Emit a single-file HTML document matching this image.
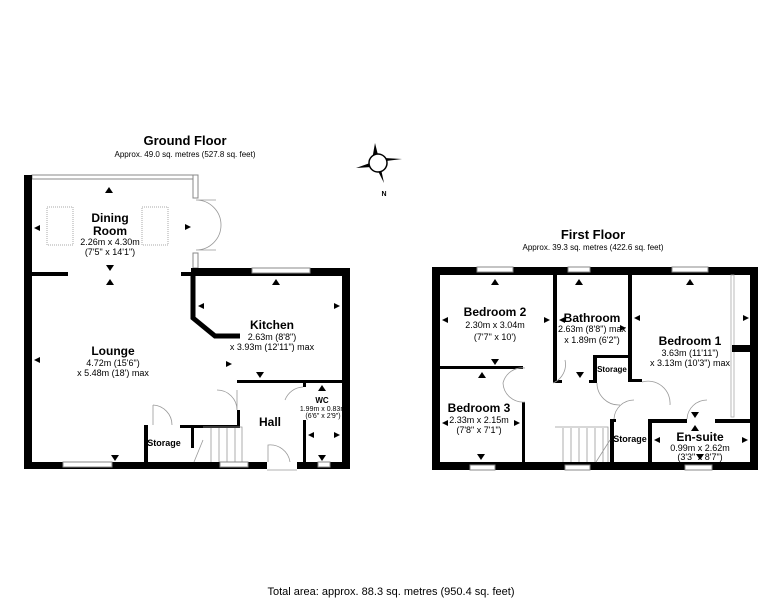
<!DOCTYPE html>
<html><head><meta charset="utf-8"><style>
html,body{margin:0;padding:0;background:#fff;}
svg{display:block;font-family:"Liberation Sans",Arial,sans-serif;}
.w{fill:#000;}
.win{fill:#fff;stroke:#888;stroke-width:1;}
.d{fill:none;stroke:#999;stroke-width:0.8;}
.b{font-weight:bold;font-size:12px;text-anchor:middle;}
.s{font-size:9px;text-anchor:middle;}
.t{font-size:7px;text-anchor:middle;}
</style></head><body>
<svg width="782" height="600" viewBox="0 0 782 600" xmlns="http://www.w3.org/2000/svg">
<!-- titles -->
<text x="185" y="145" style="font-weight:bold;font-size:13px" text-anchor="middle">Ground Floor</text>
<text x="185" y="157" style="font-size:8px" text-anchor="middle">Approx. 49.0 sq. metres (527.8 sq. feet)</text>
<text x="593" y="239" style="font-weight:bold;font-size:13px" text-anchor="middle">First Floor</text>
<text x="593" y="250" style="font-size:8px" text-anchor="middle">Approx. 39.3 sq. metres (422.6 sq. feet)</text>
<text x="391" y="595" style="font-size:11px" text-anchor="middle">Total area: approx. 88.3 sq. metres (950.4 sq. feet)</text>
<!-- compass -->
<g transform="translate(378,163)">
<polygon points="-6,-3 -3,-20 0,-8" fill="#000"/>
<polygon points="3,6 6,20 0,8" fill="#000"/>
<polygon points="-8,0 -22,5 -6,4" fill="#000"/>
<polygon points="8,-2 24,-4 6,-5" fill="#000"/>
<circle r="9" fill="#fff" stroke="#000" stroke-width="1.5"/>
<text x="6" y="33" style="font-size:7px;font-weight:bold" text-anchor="middle">N</text>
</g>

<!-- GROUND FLOOR -->
<rect class="win" x="32" y="175" width="166" height="4"/>
<rect class="win" x="193" y="175" width="5" height="23"/>
<rect class="win" x="193" y="253" width="5" height="15"/>
<path class="d" d="M196,200 A25,25 0 0 1 196,250 M196,200 h20 M196,250 h20"/>
<rect class="w" x="24" y="175" width="8" height="294"/>
<rect class="w" x="24" y="462" width="326" height="7"/>
<rect class="w" x="342" y="268" width="8" height="201"/>
<rect class="w" x="191" y="268" width="159" height="8"/>
<rect class="win" x="252" y="268" width="58" height="5"/>
<rect class="w" x="32" y="272" width="36" height="4"/>
<rect class="w" x="181" y="272" width="10" height="4"/>
<path d="M193,276 V318 L215,336 H240" stroke="#000" stroke-width="5" fill="none"/>
<rect class="w" x="237" y="380" width="105" height="3"/>
<rect class="w" x="303" y="383" width="3" height="4"/>
<rect class="w" x="303" y="420" width="3" height="42"/>
<rect class="w" x="180" y="425" width="60" height="3"/>
<rect class="w" x="237" y="410" width="3" height="18"/>
<rect class="w" x="144" y="425" width="4" height="37"/>
<rect class="w" x="191" y="425" width="3" height="23"/>
<path class="d" d="M203,427 h39 v35 M211,428 v34 M219,428 v34 M227,428 v34 M235,428 v34 M194,462 L203,440"/>
<path class="d" d="M237,410 A20,20 0 0 0 217,390 M237,390 v20 M153,405 v20 M153,405 A20,20 0 0 1 172,425 M303,387 A20,20 0 0 0 285,400 M268,462 v-17 A20,20 0 0 1 290,462"/>
<rect class="win" x="63" y="462" width="49" height="5"/>
<rect class="win" x="220" y="462" width="28" height="5"/>
<rect fill="#fff" x="267" y="462" width="30" height="8"/>
<path class="d" d="M267,470 h30"/>
<rect class="win" x="318" y="462" width="12" height="5"/>
<rect x="47" y="207" width="26" height="38" fill="none" stroke="#aaa" stroke-dasharray="1,1"/>
<rect x="142" y="207" width="26" height="38" fill="none" stroke="#aaa" stroke-dasharray="1,1"/>
<text class="b" x="110" y="222">Dining</text>
<text class="b" x="110" y="235">Room</text>
<text class="s" x="110" y="245">2.26m x 4.30m</text>
<text class="s" x="110" y="255">(7'5" x 14'1")</text>
<text class="b" x="113" y="355">Lounge</text>
<text class="s" x="113" y="366">4.72m (15'6")</text>
<text class="s" x="113" y="376">x 5.48m (18') max</text>
<text class="b" x="272" y="329">Kitchen</text>
<text class="s" x="272" y="340">2.63m (8'8")</text>
<text class="s" x="272" y="350">x 3.93m (12'11") max</text>
<text class="b" x="270" y="426">Hall</text>
<text x="164" y="446" style="font-weight:bold;font-size:9px" text-anchor="middle">Storage</text>
<text x="322" y="403" style="font-weight:bold;font-size:8px" text-anchor="middle">WC</text>
<text class="t" x="323" y="411">1.99m x 0.83m</text>
<text class="t" x="323" y="418">(6'6" x 2'9")</text>
<g fill="#000">
<polygon points="109,187 113,193 105,193"/>
<polygon points="34,228 40,225 40,231"/>
<polygon points="191,227 185,224 185,230"/>
<polygon points="106,265 114,265 110,271"/>
<polygon points="110,279 114,285 106,285"/>
<polygon points="34,360 40,357 40,363"/>
<polygon points="232,364 226,361 226,367"/>
<polygon points="111,455 119,455 115,461"/>
<polygon points="276,279 280,285 272,285"/>
<polygon points="198,306 204,303 204,309"/>
<polygon points="340,306 334,303 334,309"/>
<polygon points="256,372 264,372 260,378"/>
<polygon points="322,385 326,391 318,391"/>
<polygon points="308,435 314,432 314,438"/>
<polygon points="340,435 334,432 334,438"/>
<polygon points="318,455 326,455 322,461"/>
</g>

<!-- FIRST FLOOR -->
<rect class="w" x="432" y="267" width="8" height="203"/>
<rect class="w" x="432" y="267" width="326" height="8"/>
<rect class="w" x="432" y="462" width="326" height="8"/>
<rect class="w" x="750" y="267" width="8" height="203"/>
<rect class="win" x="477" y="267" width="36" height="5"/>
<rect class="win" x="568" y="267" width="22" height="5"/>
<rect class="win" x="672" y="267" width="36" height="5"/>
<rect class="win" x="470" y="465" width="25" height="5"/>
<rect class="win" x="565" y="465" width="25" height="5"/>
<rect class="win" x="685" y="465" width="27" height="5"/>
<rect class="w" x="553" y="275" width="4" height="108"/>
<rect class="w" x="553" y="380" width="9" height="3"/>
<rect class="w" x="440" y="366" width="83" height="3"/>
<rect class="w" x="522" y="402" width="3" height="60"/>
<rect class="w" x="628" y="275" width="4" height="107"/>
<rect class="w" x="593" y="355" width="39" height="3"/>
<rect class="w" x="593" y="355" width="4" height="28"/>
<rect class="w" x="589" y="380" width="8" height="3"/>
<rect class="w" x="632" y="379" width="10" height="3"/>
<rect x="731" y="275" width="3" height="142" fill="#fff" stroke="#aaa" stroke-width="0.8"/>
<rect class="w" x="732" y="345" width="26" height="7"/>
<rect class="w" x="648" y="419" width="39" height="4"/>
<rect class="w" x="715" y="419" width="43" height="4"/>
<rect class="w" x="648" y="419" width="4" height="43"/>
<rect class="w" x="610" y="419" width="4" height="43"/>
<rect class="w" x="610" y="419" width="6" height="3"/>
<path class="d" d="M555,427 h53 v35 M563,428 v34 M571,428 v34 M579,428 v34 M587,428 v34 M595,428 v34 M603,428 v34 M610,440 L596,462"/>
<path class="d" d="M525,368 A20,20 0 0 0 503,383 M525,402 A20,20 0 0 1 503,383 M553,383 A20,20 0 0 0 565,360 M597,383 A22,22 0 0 0 620,405 M642,382 A22,22 0 0 1 670,405 M614,419 A20,20 0 0 1 634,400 M687,419 A20,20 0 0 1 707,400"/>
<text class="b" x="495" y="316">Bedroom 2</text>
<text class="s" x="495" y="328">2.30m x 3.04m</text>
<text class="s" x="495" y="340">(7'7" x 10')</text>
<text class="b" x="592" y="322">Bathroom</text>
<text class="s" x="592" y="332">2.63m (8'8") max</text>
<text class="s" x="592" y="343">x 1.89m (6'2")</text>
<text x="612" y="372" style="font-weight:bold;font-size:8px" text-anchor="middle">Storage</text>
<text class="b" x="690" y="345">Bedroom 1</text>
<text class="s" x="690" y="356">3.63m (11'11")</text>
<text class="s" x="690" y="366">x 3.13m (10'3") max</text>
<text class="b" x="479" y="412">Bedroom 3</text>
<text class="s" x="479" y="423">2.33m x 2.15m</text>
<text class="s" x="479" y="433">(7'8" x 7'1")</text>
<text x="630" y="442" style="font-weight:bold;font-size:9px" text-anchor="middle">Storage</text>
<text class="b" x="700" y="441">En-suite</text>
<text class="s" x="700" y="451">0.99m x 2.62m</text>
<text class="s" x="700" y="460">(3'3" x 8'7")</text>
<g fill="#000">
<polygon points="495,279 499,285 491,285"/>
<polygon points="579,279 583,285 575,285"/>
<polygon points="690,279 694,285 686,285"/>
<polygon points="442,320 448,317 448,323"/>
<polygon points="550,320 544,317 544,323"/>
<polygon points="559,320 565,317 565,323"/>
<polygon points="626,328 620,325 620,331"/>
<polygon points="634,318 640,315 640,321"/>
<polygon points="749,318 743,315 743,321"/>
<polygon points="491,359 499,359 495,365"/>
<polygon points="482,372 486,378 478,378"/>
<polygon points="576,372 584,372 580,378"/>
<polygon points="442,423 448,420 448,426"/>
<polygon points="520,423 514,420 514,426"/>
<polygon points="477,454 485,454 481,460"/>
<polygon points="691,412 699,412 695,418"/>
<polygon points="695,425 699,431 691,431"/>
<polygon points="654,440 660,437 660,443"/>
<polygon points="748,440 742,437 742,443"/>
<polygon points="696,454 704,454 700,460"/>
</g>
</svg>
</body></html>
